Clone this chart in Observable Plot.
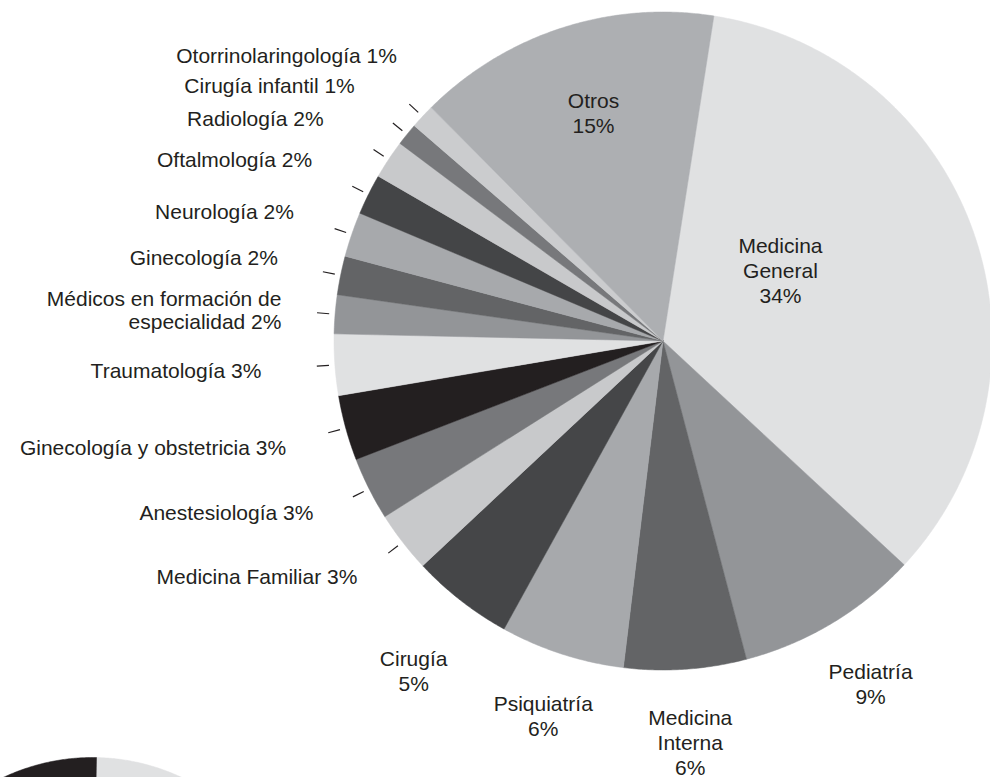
<!DOCTYPE html>
<html>
<head>
<meta charset="utf-8">
<script src="https://cdn.jsdelivr.net/npm/d3@7"></script>
<script src="https://cdn.jsdelivr.net/npm/@observablehq/plot@0.6"></script>
<style>
  html, body { margin: 0; padding: 0; background: #ffffff; overflow: hidden; }
  #chart svg { display: block; }
</style>
</head>
<body>
<div id="chart"></div>
<script>
// ---------- DATA ----------
const especialidades = [
  "Medicina General", "Pediatría", "Medicina Interna", "Psiquiatría", "Cirugía",
  "Medicina Familiar", "Anestesiología", "Ginecología y obstetricia", "Traumatología",
  "Médicos en formación de especialidad", "Ginecología", "Neurología", "Oftalmología",
  "Radiología", "Cirugía infantil", "Otorrinolaringología", "Otros"
];
const porcentajes = [34.4, 9.0, 6.0, 6.1, 5.0, 3.0, 3.1, 3.2, 3.0, 1.9, 1.9, 2.2, 2.0, 1.9, 1.1, 1.2, 14.9];
const etiquetas = [
  "Medicina\nGeneral\n34%", "Pediatría\n9%", "Medicina\nInterna\n6%", "Psiquiatría\n6%", "Cirugía\n5%",
  "Medicina Familiar 3%", "Anestesiología 3%", "Ginecología y obstetricia 3%", "Traumatología 3%",
  "Médicos en formación de\nespecialidad 2%", "Ginecología 2%", "Neurología 2%", "Oftalmología 2%",
  "Radiología 2%", "Cirugía infantil 1%", "Otorrinolaringología 1%", "Otros\n15%"
];
// next (cut-off) pie chart at the bottom-left edge of the picture
const siguienteCategorias = ["siguiente A", "siguiente B"];
const siguienteValores = [55, 45];

// ---------- STYLES ----------
const colores = [
  "#e0e1e2", "#939598", "#636466", "#a7a9ac", "#454648",
  "#c8c9cb", "#77787b", "#231f20", "#e0e1e2",
  "#939598", "#636466", "#a7a9ac", "#444547",
  "#c8c9cb", "#77787b", "#cbccce", "#adafb2"
];
const siguienteColores = ["#e0e1e2", "#231f20"];

// ---------- LAYOUT ----------
const W = 990, H = 777;
const PIE = {cx: 662.5, cy: 340.5, r: 329, start: 8.9};
const PIE2 = {cx: 92, cy: 966.7, r: 209.7, start: 1.1};
// [text anchor, radius of label anchor, angle nudge in degrees]
const labelLayout = [
  ["middle", 137.5, -12.2], ["middle", 400.5, -0.3], ["middle", 401.5, 0], ["middle", 393.6, -0.2], ["middle", 413.3, -0.8],
  ["end", 385.7, 0.1], ["end", 389.3, 0.6], ["end", 391.6, -0.4], ["end", 402.7, -0.1],
  ["end", 382.8, 0], ["end", 394, 0.7], ["end", 391, 0.4], ["end", 395, 0.9],
  ["end", 406, -0.2], ["end", 400.6, 0.8], ["end", 390.6, 4.0], ["middle", 238.4, 1.0]
];
const TICK_IN = 1.018, TICK_OUT = 1.055;
const FONT = "'Liberation Sans', Arial, Helvetica, sans-serif";
const INK = "#231f20";

// ---------- GEOMETRY ----------
const rad = d => d * Math.PI / 180;
const px = (ang, r) => r * Math.sin(rad(ang));
const py = (ang, r) => -r * Math.cos(rad(ang));

function slices(names, values, pie) {
  const total = d3.sum(values);
  let a = pie.start;
  return names.map((name, i) => {
    const a0 = a, a1 = a + values[i] / total * 360;
    a = a1;
    return {name, i, a0, a1, mid: (a0 + a1) / 2};
  });
}
function polygons(sl, pie) {
  const ox = pie.cx - PIE.cx, oy = pie.cy - PIE.cy;
  const pts = [];
  for (const s of sl) {
    pts.push({name: s.name, x: ox, y: oy});
    const n = Math.max(2, Math.ceil((s.a1 - s.a0) / 0.4));
    for (let k = 0; k <= n; k++) {
      const t = s.a0 + (s.a1 - s.a0) * k / n;
      pts.push({name: s.name, x: ox + px(t, pie.r), y: oy + py(t, pie.r)});
    }
    pts.push({name: s.name, x: ox, y: oy});
  }
  return pts;
}

const sl1 = slices(especialidades, porcentajes, PIE);
const sl2 = slices(siguienteCategorias, siguienteValores, PIE2);
const poly = polygons(sl1, PIE).concat(polygons(sl2, PIE2));

const labels = sl1.map(s => {
  const [anchor, r, da] = labelLayout[s.i];
  const ang = s.mid + da;
  return {text: etiquetas[s.i], anchor, x: px(ang, r), y: py(ang, r)};
});
const ticks = sl1.filter(s => labelLayout[s.i][0] === "end").map(s => ({
  x1: px(s.mid, PIE.r * TICK_IN), y1: py(s.mid, PIE.r * TICK_IN),
  x2: px(s.mid, PIE.r * TICK_OUT), y2: py(s.mid, PIE.r * TICK_OUT)
}));

const chart = Plot.plot({
  width: W,
  height: H,
  margin: 0,
  x: {domain: [-PIE.cx, W - PIE.cx], range: [0, W], axis: null},
  y: {domain: [-PIE.cy, H - PIE.cy], range: [0, H], axis: null},
  color: {domain: especialidades.concat(siguienteCategorias), range: colores.concat(siguienteColores)},
  style: {background: "#ffffff", fontFamily: FONT, overflow: "hidden"},
  marks: [
    Plot.line(poly, {x: "x", y: "y", z: "name", fill: "name", stroke: "name", strokeWidth: 0.5, curve: "linear", clip: true}),
    Plot.link(ticks, {x1: "x1", y1: "y1", x2: "x2", y2: "y2", stroke: INK, strokeWidth: 1.2}),
    Plot.text(labels.filter(d => d.anchor === "middle"), {x: "x", y: "y", text: "text", textAnchor: "middle", fontSize: 21, lineHeight: 1.19, fill: INK, fontFamily: FONT}),
    Plot.text(labels.filter(d => d.anchor === "end"), {x: "x", y: "y", text: "text", textAnchor: "end", fontSize: 21, lineHeight: 1.12, fill: INK, fontFamily: FONT})
  ]
});
document.getElementById("chart").appendChild(chart);
</script>
</body>
</html>
